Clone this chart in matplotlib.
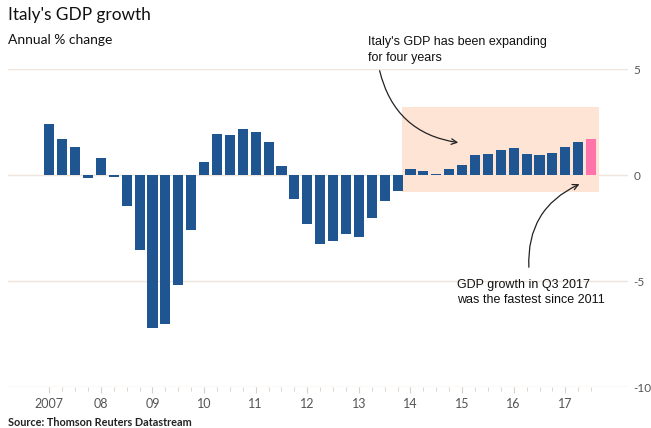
import numpy as np
import matplotlib
matplotlib.use("Agg")
import matplotlib.pyplot as plt
from matplotlib.patches import Rectangle

# quarterly GDP growth, annual % change, 2007 Q1 .. 2017 Q3
gdp = [2.42, 1.71, 1.32, -0.13,
       0.82, -0.08, -1.45, -3.54,
       -7.23, -7.04, -5.17, -2.59,
       0.60, 1.95, 1.90, 2.15,
       2.04, 1.56, 0.44, -1.12,
       -2.30, -3.24, -3.13, -2.78,
       -2.92, -2.01, -1.23, -0.77,
       0.27, 0.19, 0.06, 0.30,
       0.46, 0.93, 0.97, 1.18,
       1.27, 1.01, 0.94, 1.05,
       1.30, 1.54, 1.68]
year_labels = ["2007", "08", "09", "10", "11", "12", "13", "14", "15", "16", "17"]
yticks = [5, 0, -5, -10]

BLUE = "#1f5591"
PINK = "#ff74aa"
SHADE = "#fde4d5"
GRID = "#efe5dd"
GREY = "#555555"

fig = plt.figure(figsize=(6.51, 4.28), dpi=100)
ax = fig.add_axes([8/651, 41/428, 620/651, 318/428])

x = np.arange(len(gdp))
colors = [BLUE] * (len(gdp) - 1) + [PINK]
ax.bar(x, gdp, width=0.78, color=colors, zorder=3)

# four years of expansion highlighted
ax.add_patch(Rectangle((27.36, -0.79), 42.64 - 27.36, 3.22 + 0.79,
                       facecolor=SHADE, edgecolor="none", zorder=2))

for y in yticks:
    ax.axhline(y, color=GRID, lw=1, zorder=1)

ax.set_xlim(-3.2, 44.86)
ax.set_ylim(-10, 5)

for s in ax.spines.values():
    s.set_visible(False)

ax.set_xticks(x, minor=True)
ax.set_xticks(x[::4])
ax.set_xticklabels(year_labels, fontfamily="Lato", fontsize=9, color=GREY)
ax.tick_params(axis="x", which="both", length=3, color="#d8cfc8", pad=4)
ax.tick_params(axis="x", which="major", length=4)

ax.yaxis.tick_right()
ax.set_yticks(yticks)
ax.set_yticklabels([str(v) for v in yticks], fontfamily="Lato", fontsize=8.5, color=GREY)
ax.tick_params(axis="y", length=0, pad=4)

fig.text(8/651, 1 - 15/428, "Italy's GDP growth", fontfamily="Lato", fontsize=12.4,
         va="center", ha="left", color="#111111")
fig.text(8/651, 1 - 40/428, "Annual % change", fontfamily="Lato", fontsize=10,
         va="center", ha="left", color="#111111")
fig.text(8/651, 1 - 422/428, "Source: Thomson Reuters Datastream", fontfamily="Lato",
         fontsize=7.8, fontweight="bold", va="center", ha="left", color="#222222")

ann_font = dict(fontfamily="Liberation Sans", fontsize=9, color="#111111")
ax.annotate("", xy=(461/651, 1 - 143/428), xytext=(379/651, 1 - 68/428),
            xycoords="figure fraction", textcoords="figure fraction",
            arrowprops=dict(arrowstyle="->", color="#222222", lw=0.9,
                            connectionstyle="arc3,rad=0.35"))
fig.text(368/651, 1 - 50/428, "Italy's GDP has been expanding\nfor four years",
         va="center", ha="left", linespacing=1.35, **ann_font)

ax.annotate("", xy=(582/651, 1 - 183/428), xytext=(529/651, 1 - 270/428),
            xycoords="figure fraction", textcoords="figure fraction",
            arrowprops=dict(arrowstyle="->", color="#222222", lw=0.9,
                            connectionstyle="arc3,rad=-0.35"))
fig.text(457/651, 1 - 292.5/428, "GDP growth in Q3 2017\nwas the fastest since 2011",
         va="center", ha="left", linespacing=1.35, **ann_font)

fig.savefig("out.png", dpi=100)
